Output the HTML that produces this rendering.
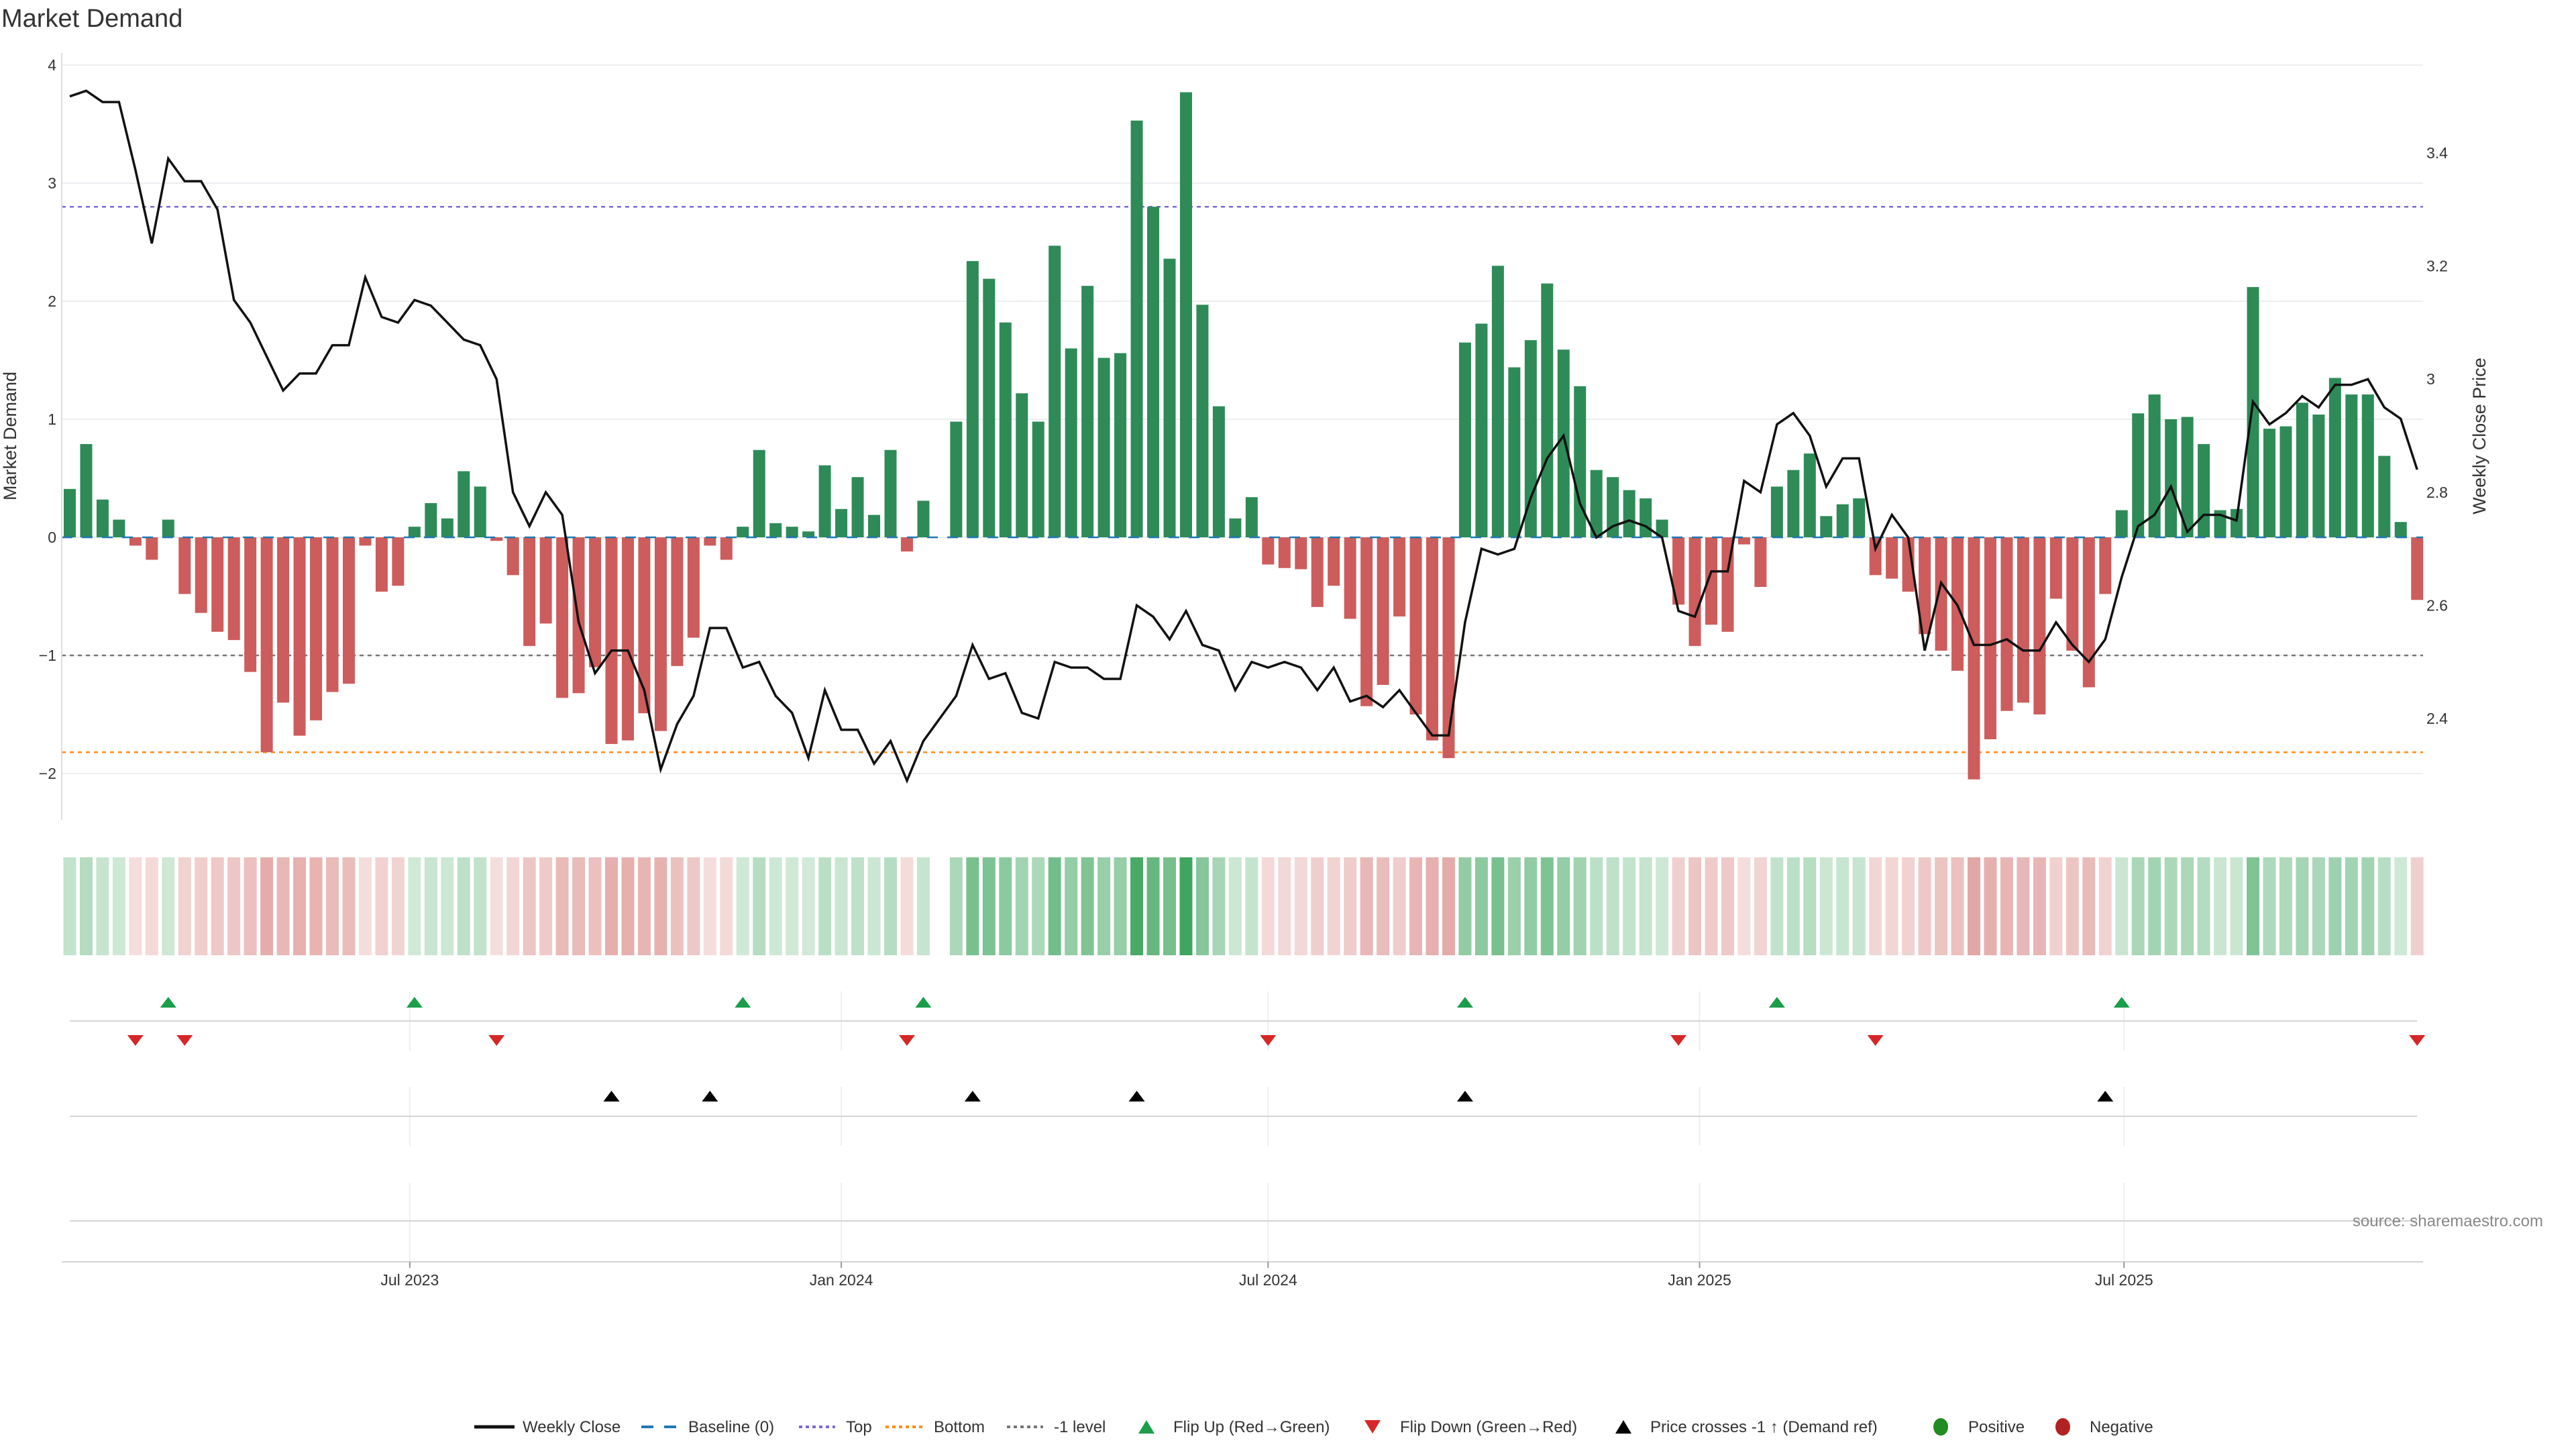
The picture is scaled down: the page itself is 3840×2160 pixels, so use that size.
<!DOCTYPE html>
<html><head><meta charset="utf-8"><title>Market Demand</title>
<style>
html,body{margin:0;padding:0;background:#fff;}
svg{display:block;font-family:"Liberation Sans","DejaVu Sans",sans-serif;}
</style></head>
<body>
<svg id="chart" width="3840" height="2160" viewBox="0 0 3840 2160" xmlns="http://www.w3.org/2000/svg">
<rect x="0" y="0" width="3840" height="2160" fill="#fff"/>
<text x="2" y="40" font-size="38" fill="#333">Market Demand</text>
<g id="grid"></g>
<g id="refs"></g>
<g id="bars"></g>
<g id="line"></g>
<g id="axes"></g>
<g id="heat"></g>
<g id="markers"></g>
<g id="legend"></g>
<text x="3791" y="1828" font-size="24" fill="#888" text-anchor="end">source: sharemaestro.com</text>
</svg>
<script>
const demand = [0.41,0.79,0.32,0.15,-0.07,-0.19,0.15,-0.48,-0.64,-0.80,
-0.87,-1.14,-1.82,-1.40,-1.68,-1.55,-1.31,-1.24,-0.07,-0.46,
-0.41,0.09,0.29,0.16,0.56,0.43,-0.03,-0.32,-0.92,-0.73,
-1.36,-1.32,-1.10,-1.75,-1.72,-1.49,-1.64,-1.09,-0.85,-0.07,
-0.19,0.09,0.74,0.12,0.09,0.05,0.61,0.24,0.51,0.19,
0.74,-0.12,0.31,0,0.98,2.34,2.19,1.82,1.22,0.98,
2.47,1.60,2.13,1.52,1.56,3.53,2.80,2.36,3.77,1.97,
1.11,0.16,0.34,-0.23,-0.26,-0.27,-0.59,-0.41,-0.69,-1.43,
-1.25,-0.67,-1.50,-1.72,-1.87,1.65,1.81,2.30,1.44,1.67,
2.15,1.59,1.28,0.57,0.51,0.40,0.33,0.15,-0.57,-0.92,
-0.74,-0.80,-0.06,-0.42,0.43,0.57,0.71,0.18,0.28,0.33,
-0.32,-0.35,-0.46,-0.82,-0.96,-1.13,-2.05,-1.71,-1.47,-1.40,
-1.50,-0.52,-0.96,-1.27,-0.48,0.23,1.05,1.21,1.00,1.02,
0.79,0.23,0.24,2.12,0.92,0.94,1.14,1.04,1.35,1.21,
1.21,0.69,0.13,-0.53];
const price = [3.50,3.51,3.49,3.49,3.37,3.24,3.39,3.35,3.35,3.30,
3.14,3.10,3.04,2.98,3.01,3.01,3.06,3.06,3.18,3.11,
3.10,3.14,3.13,3.10,3.07,3.06,3.00,2.80,2.74,2.80,
2.76,2.57,2.48,2.52,2.52,2.45,2.31,2.39,2.44,2.56,
2.56,2.49,2.50,2.44,2.41,2.33,2.45,2.38,2.38,2.32,
2.36,2.29,2.36,2.40,2.44,2.53,2.47,2.48,2.41,2.40,
2.50,2.49,2.49,2.47,2.47,2.60,2.58,2.54,2.59,2.53,
2.52,2.45,2.50,2.49,2.50,2.49,2.45,2.49,2.43,2.44,
2.42,2.45,2.41,2.37,2.37,2.57,2.70,2.69,2.70,2.79,
2.86,2.90,2.78,2.72,2.74,2.75,2.74,2.72,2.59,2.58,
2.66,2.66,2.82,2.80,2.92,2.94,2.90,2.81,2.86,2.86,
2.70,2.76,2.72,2.52,2.64,2.60,2.53,2.53,2.54,2.52,
2.52,2.57,2.53,2.50,2.54,2.65,2.74,2.76,2.81,2.73,
2.76,2.76,2.75,2.96,2.92,2.94,2.97,2.95,2.99,2.99,
3.00,2.95,2.93,2.84];
const startDate = "2023-02-06";
const dateTicks = ["2023-07-01","2024-01-01","2024-07-01","2025-01-01","2025-07-01"];
const dateTickLabels = ["Jul 2023","Jan 2024","Jul 2024","Jan 2025","Jul 2025"];
const demandTicks = [-2,-1,0,1,2,3,4];
const priceTicks = [2.4,2.6,2.8,3.0,3.2,3.4];
const priceTickLabels = ["2.4","2.6","2.8","3","3.2","3.4"];
const topLevel = 2.80;
const bottomLevel = -1.82;
const minusLevel = -1;

const NS = "http://www.w3.org/2000/svg";
function mk(tag, attrs, parent){const e=document.createElementNS(NS,tag);for(const k in attrs)e.setAttribute(k,attrs[k]);parent.appendChild(e);return e;}
const X0=104, DX=24.47, PL=92, PR=3612;
function xIdx(i){return X0+i*DX;}
function yD(v){return 801-176*v;}
function yP(p){return 228+(3.4-p)*843;}
function pFromY(y){return 3.4-(y-228)/843;}
function dateIdx(s){return (Date.parse(s)-Date.parse(startDate))/(7*86400000);}

const grid=document.getElementById('grid'), refs=document.getElementById('refs'), bars=document.getElementById('bars'),
 lineG=document.getElementById('line'), axes=document.getElementById('axes'), heat=document.getElementById('heat'),
 markers=document.getElementById('markers'), legend=document.getElementById('legend');

// grid + left ticks
demandTicks.forEach(t=>{
  const g=mk('line',{x1:PL,x2:PR,y1:yD(t),y2:yD(t),stroke:'#eceef1','stroke-width':2},grid);
  
  
  const tx=mk('text',{x:84,y:yD(t)+8,'font-size':23,fill:'#333','text-anchor':'end'},axes);
  tx.textContent=(t<0?'\u2212'+Math.abs(t):String(t));
  
  
});
priceTicks.forEach((t,k)=>{
  const tx=mk('text',{x:3617,y:yP(t)+8,'font-size':23,fill:'#333'},axes);
  tx.textContent=priceTickLabels[k];
  
  
});
let ax=mk('line',{x1:PL,x2:PL,y1:79,y2:1222,stroke:'#ddd','stroke-width':2},axes);


let yl=mk('text',{x:24,y:650,'font-size':27,fill:'#333','text-anchor':'middle',transform:'rotate(-90 24 650)'},axes);
yl.textContent='Market Demand';


let yr=mk('text',{x:3705,y:650,'font-size':27,fill:'#333','text-anchor':'middle',transform:'rotate(-90 3705 650)'},axes);
yr.textContent='Weekly Close Price';



// bars
demand.forEach((v,i)=>{
  if(v===0)return;
  const y=Math.min(yD(v),yD(0)), h=Math.abs(yD(v)-yD(0));
  const r=mk('rect',{x:xIdx(i)-9,y:y,width:18,height:h,fill:v>0?'#2e8b57':'#cd5c5c'},bars);
  
  
});
// reference lines
[[0,'#1f77b4','16 14','baseline-line'],[topLevel,'#7b68d8','6 6','top-line'],[bottomLevel,'#ff8c1a','6 6','bottom-line'],[minusLevel,'#777','6 6','minus-one-line']].forEach(d=>{
  const l=mk('line',{x1:PL,x2:PR,y1:yD(d[0]),y2:yD(d[0]),stroke:d[1],'stroke-width':2.5,'stroke-dasharray':d[2]},d[0]===0?bars:refs);
  
  
});
// price line
const pts=price.map((p,i)=>xIdx(i).toFixed(1)+','+yP(p).toFixed(1)).join(' ');
const pl=mk('polyline',{points:pts,fill:'none',stroke:'#111','stroke-width':3.5,'stroke-linejoin':'miter'},lineG);



// heat strip
const maxAbs=Math.max(...demand.map(Math.abs));
demand.forEach((v,i)=>{
  if(v===0)return;
  const a=0.22+0.72*Math.abs(v)/maxAbs;
  const c=mk('rect',{x:xIdx(i)-9.5,y:1278,width:19,height:146,fill:v>0?'rgb(52,160,85)':'rgb(200,85,80)','fill-opacity':v>0?a:a*0.85},heat);
  
  
});

// lower panels lines and date ticks
[[1522,'flip-panel-line'],[1664,'cross-panel-line'],[1820,'empty-panel-line']].forEach(d=>{
  const l=mk('line',{x1:X0,x2:xIdx(143),y1:d[0],y2:d[0],stroke:'#d4d4d4','stroke-width':2},markers);
  
  
});
let xa=mk('line',{x1:PL,x2:PR,y1:1881,y2:1881,stroke:'#d4d4d4','stroke-width':2},markers);


dateTicks.forEach((d,k)=>{
  const x=xIdx(dateIdx(d));
  [[1478,1566],[1620,1708],[1763,1881]].forEach(s=>{
    const g=mk('line',{x1:x,x2:x,y1:s[0],y2:s[1],stroke:'#eceef1','stroke-width':2},grid);
    
    
  });
  const tk=mk('line',{x1:x,x2:x,y1:1881,y2:1890,stroke:'#999','stroke-width':2},markers);
  
  
  const t=mk('text',{x:x,y:1916,'font-size':23,fill:'#333','text-anchor':'middle'},markers);
  t.textContent=dateTickLabels[k];
  
  
});
function tri(x,y,up,color,name){
  const p=up?`${x-12},${y+8} ${x+12},${y+8} ${x},${y-8}`:`${x-12},${y-8} ${x+12},${y-8} ${x},${y+8}`;
  const t=mk('polygon',{points:p,fill:color},markers);
  
  
}
const crossPrice=pFromY(yD(minusLevel));
for(let i=1;i<demand.length;i++){
  if(demand[i-1]<0&&demand[i]>0)tri(xIdx(i),1494,true,'#1a9e4a','flip-up-marker');
  if(demand[i-1]>0&&demand[i]<0)tri(xIdx(i),1551,false,'#d62728','flip-down-marker');
  if(price[i-1]<crossPrice&&price[i]>=crossPrice)tri(xIdx(i),1634,true,'#000','price-cross-marker');
}

// legend
const ly=2127;
function ltext(x,s,name){const t=mk('text',{x:x,y:ly+8,'font-size':24,fill:'#333'},legend);t.textContent=s;}
function lline(x1,x2,color,dash,name){const l=mk('line',{x1:x1,x2:x2,y1:ly,y2:ly,stroke:color,'stroke-width':dash?4:5,'stroke-dasharray':dash||'none'},legend);}
lline(707,767,'#111','', 'legend-weekly-close-swatch'); ltext(779,'Weekly Close','legend-weekly-close');
lline(956,1008,'#1f77b4','18 16','legend-baseline-swatch'); ltext(1026,'Baseline (0)','legend-baseline');
lline(1191,1245,'#7b68d8','5 5','legend-top-swatch'); ltext(1261,'Top','legend-top');
lline(1320,1376,'#ff8c1a','5 5','legend-bottom-swatch'); ltext(1392,'Bottom','legend-bottom');
lline(1501,1555,'#777','5 5','legend-minus-one-swatch'); ltext(1571,'-1 level','legend-minus-one');
(function(){
 let t=mk('polygon',{points:`1697,${ly+10} 1721,${ly+10} 1709,${ly-10}`,fill:'#1a9e4a'},legend);
 
 
 t=mk('polygon',{points:`2034,${ly-10} 2058,${ly-10} 2046,${ly+10}`,fill:'#d62728'},legend);
 
 
 t=mk('polygon',{points:`2408,${ly+10} 2432,${ly+10} 2420,${ly-10}`,fill:'#000'},legend);
 
 
 t=mk('ellipse',{cx:2893,cy:ly,rx:11,ry:13,fill:'#228b22'},legend);
 
 
 t=mk('ellipse',{cx:3075,cy:ly,rx:11,ry:13,fill:'#b22222'},legend);
 
 
})();
ltext(1749,'Flip Up (Red\u2192Green)','legend-flip-up');
ltext(2087,'Flip Down (Green\u2192Red)','legend-flip-down');
ltext(2460,'Price crosses -1 \u2191 (Demand ref)','legend-price-cross');
ltext(2934,'Positive','legend-positive');
ltext(3115,'Negative','legend-negative');
</script>
</body></html>
